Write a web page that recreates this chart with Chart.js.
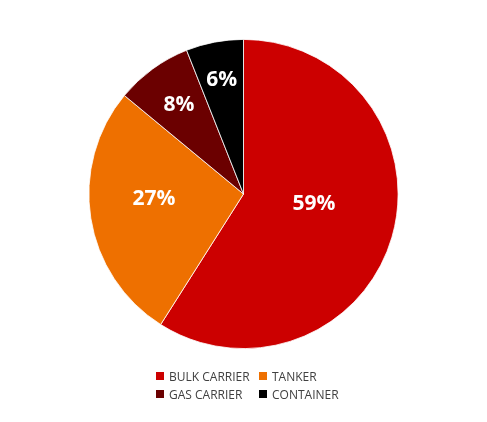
<!DOCTYPE html>
<html>
<head>
<meta charset="utf-8">
<script src="https://cdn.jsdelivr.net/npm/chart.js@4.4.0/dist/chart.umd.min.js"></script>
<style>
  html, body { margin: 0; padding: 0; background: #fff; }
  #wrap { position: relative; width: 487px; height: 422px; }
  #legend {
    position: absolute; left: 156px; top: 369px;
    display: grid; grid-template-columns: 103px auto; row-gap: 4px;
    font-family: "Open Sans", sans-serif; font-size: 12px; color: #404040;
  }
  #legend .item { display: flex; align-items: center; height: 14px; white-space: nowrap; }
  #legend .box { width: 8px; height: 8px; margin-right: 5px; }
</style>
</head>
<body>
<div id="wrap">
  <canvas id="pie-canvas" width="487" height="422"></canvas>
  <div id="legend"></div>
</div>
<script>
// ========== Data
let categories = ['BULK CARRIER', 'TANKER', 'GAS CARRIER', 'CONTAINER'];
let shares = [59, 27, 8, 6];
let colors = ['#CC0000', '#EE7000', '#6B0000', '#000000'];

// label placement: distance from centre (fraction of radius) and angle nudge (deg)
let labelRadius = [0.46, 0.58, 0.71, 0.75];
let labelTurn = [-8, 5.5, 0, 0];

// ========== Labels on the slices
let sliceLabels = {
    id: 'sliceLabels',
    afterDatasetsDraw(chart) {
        let ctx = chart.ctx;
        let meta = chart.getDatasetMeta(0);
        ctx.save();
        ctx.fillStyle = '#ffffff';
        ctx.font = 'bold 21px "Open Sans", sans-serif';
        ctx.textAlign = 'center';
        ctx.textBaseline = 'middle';
        meta.data.forEach((arc, i) => {
            let mid = (arc.startAngle + arc.endAngle) / 2 + labelTurn[i] * Math.PI / 180;
            let r = arc.outerRadius * labelRadius[i];
            let x = arc.x + Math.cos(mid) * r;
            let y = arc.y + Math.sin(mid) * r;
            ctx.fillText(chart.data.datasets[0].data[i] + '%', x, y);
        });
        ctx.restore();
    }
};

var pieCanvas = document.getElementById('pie-canvas');
var myPieChart = new Chart(pieCanvas, {
    type: 'pie',
    data: {
        labels: categories,
        datasets: [{
            data: shares,
            backgroundColor: colors,
            borderColor: '#ffffff',
            borderWidth: 0.8
        }]
    },
    options: {
        responsive: false,
        animation: false,
        layout: { padding: { top: 39, bottom: 73, left: 0, right: 0 } },
        plugins: {
            legend: { display: false },
            tooltip: { enabled: false }
        }
    },
    plugins: [sliceLabels]
});

// ========== Legend (2 x 2)
let legendDiv = document.getElementById('legend');
categories.forEach((name, i) => {
    let item = document.createElement('div');
    item.className = 'item';
    item.innerHTML = '<span class="box" style="background:' + colors[i] + '"></span>' + name;
    legendDiv.appendChild(item);
});
</script>
</body>
</html>
